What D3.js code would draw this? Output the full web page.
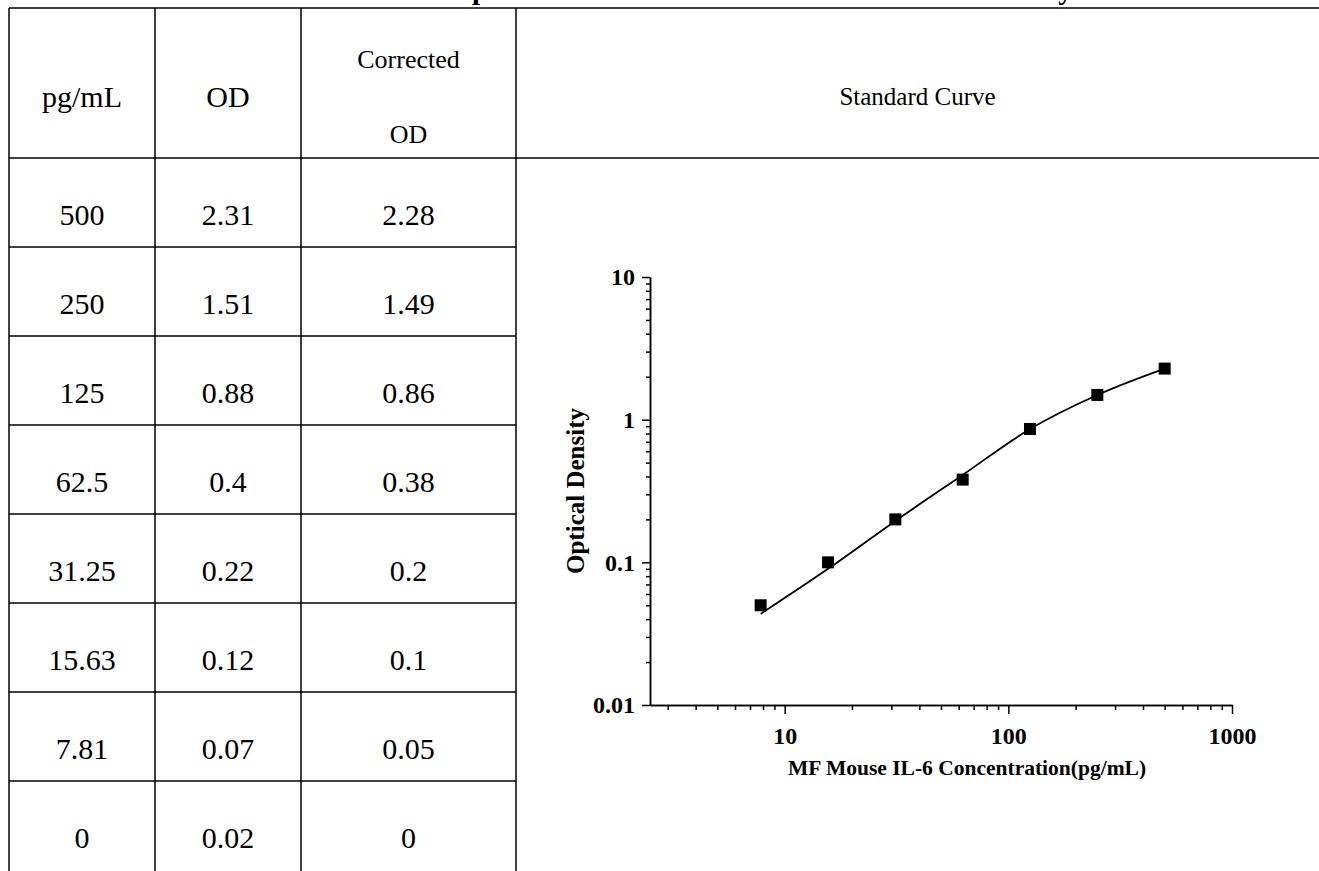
<!DOCTYPE html>
<html>
<head>
<meta charset="utf-8">
<script src="https://d3js.org/d3.v7.min.js"></script>
<style>
  body { margin: 0; background: #fff; }
  svg { display: block; }
  text { font-family: "Liberation Serif", "Times New Roman", serif; fill: #000; }
  .axis text { font-weight: bold; font-size: 24px; }
  .axis path, .axis line { stroke: #000; stroke-width: 1.5; }
</style>
</head>
<body>
<div id="chart"></div>
<script>
// table + standard curve data
var concentrations = [500, 250, 125, 62.5, 31.25, 15.63, 7.81, 0];
var odValues = [2.31, 1.51, 0.88, 0.4, 0.22, 0.12, 0.07, 0.02];
var correctedOd = [2.28, 1.49, 0.86, 0.38, 0.2, 0.1, 0.05, 0];
// fitted curve at 500 ... 7.81 pg/mL
var fitOd = [2.28, 1.49, 0.86, 0.41, 0.195, 0.09, 0.0435];
var headers = ["pg/mL", "OD", ["Corrected", "OD"]];
var xMajorTicks = [10, 100, 1000];
var yMajorTicks = [0.01, 0.1, 1, 10];
var titleText = "Example of Standard Curve for MF Mouse IL-6 Assay";

var svgWidth = 1319;
var svgHeight = 871;

var svg = d3.select("#chart")
  .append("svg")
  .attr("width", svgWidth)
  .attr("height", svgHeight);

// Step 1: table grid
// ==============================
var colEdges = [9, 155, 301, 516];
var tableTop = 8;
var headerBottom = 158;
var rowHeight = 89;

var grid = svg.append("g")
  .attr("stroke", "#000")
  .attr("stroke-width", 1.5);

// full width lines (top and header bottom)
grid.append("line").attr("x1", colEdges[0]).attr("x2", svgWidth).attr("y1", tableTop).attr("y2", tableTop);
grid.append("line").attr("x1", colEdges[0]).attr("x2", svgWidth).attr("y1", headerBottom).attr("y2", headerBottom);

colEdges.forEach(function (x) {
  grid.append("line").attr("x1", x).attr("x2", x).attr("y1", tableTop).attr("y2", svgHeight);
});

// row separators (last row runs off the bottom of the page)
concentrations.slice(1).forEach(function (c, i) {
  var yy = headerBottom + rowHeight * (i + 1);
  grid.append("line").attr("x1", colEdges[0]).attr("x2", colEdges[3]).attr("y1", yy).attr("y2", yy);
});

// Step 2: table text
// ==============================
var colCenters = [0, 1, 2].map(function (i) { return (colEdges[i] + colEdges[i + 1]) / 2; });

svg.append("text").attr("x", colCenters[0]).attr("y", 107).attr("text-anchor", "middle")
  .style("font-size", "30px").text(headers[0]);
svg.append("text").attr("x", colCenters[1]).attr("y", 107).attr("text-anchor", "middle")
  .style("font-size", "30px").text(headers[1]);
svg.append("text").attr("x", colCenters[2]).attr("y", 68).attr("text-anchor", "middle")
  .style("font-size", "26px").text(headers[2][0]);
svg.append("text").attr("x", colCenters[2]).attr("y", 143).attr("text-anchor", "middle")
  .style("font-size", "26px").text(headers[2][1]);
svg.append("text").attr("x", (colEdges[3] + svgWidth) / 2).attr("y", 105).attr("text-anchor", "middle")
  .style("font-size", "25px").text("Standard Curve");

var columns = [concentrations, odValues, correctedOd];
columns.forEach(function (col, ci) {
  svg.append("g").selectAll("text")
    .data(col)
    .enter()
    .append("text")
    .attr("x", colCenters[ci])
    .attr("y", function (d, i) { return headerBottom + rowHeight * i + 67; })
    .attr("text-anchor", "middle")
    .style("font-size", "30px")
    .text(function (d) { return String(d); });
});

// cut-off title at the very top
var title = svg.append("text")
  .attr("y", -1.5)
  .style("font-size", "29px")
  .style("font-weight", "bold")
  .text(titleText);
var tn = title.node();
var pIndex = titleText.indexOf("p");
var pOffset = tn.getSubStringLength(0, pIndex) + tn.getSubStringLength(pIndex, 1) / 2;
title.attr("x", 480 - pOffset);

// Step 3: scales
// ==============================
var xScale = d3.scaleLog()
  .domain([2.5, 1000])
  .range([650, 1232]);

var yScale = d3.scaleLog()
  .domain([0.01, 10])
  .range([705, 277]);

var xMinor = xScale.ticks().filter(function (t) { return xMajorTicks.indexOf(t) < 0; });
var yMinor = yScale.ticks().filter(function (t) { return yMajorTicks.indexOf(t) < 0; });

// Step 4: axes
// ==============================
svg.append("g")
  .attr("class", "axis")
  .attr("transform", "translate(0,705)")
  .call(d3.axisBottom(xScale).tickValues(xMinor).tickSize(5).tickFormat("").tickSizeOuter(0));

svg.append("g")
  .attr("class", "axis")
  .attr("transform", "translate(0,705)")
  .call(d3.axisBottom(xScale).tickValues(xMajorTicks).tickSize(9).tickPadding(13)
    .tickFormat(d3.format("d")).tickSizeOuter(0));

svg.append("g")
  .attr("class", "axis")
  .attr("transform", "translate(650,0)")
  .call(d3.axisLeft(yScale).tickValues(yMinor).tickSize(4).tickFormat("").tickSizeOuter(0));

svg.append("g")
  .attr("class", "axis")
  .attr("transform", "translate(650,0)")
  .call(d3.axisLeft(yScale).tickValues(yMajorTicks).tickSize(8).tickPadding(7)
    .tickFormat(function (d) { return String(d); }).tickSizeOuter(0));

// Step 5: fitted curve and points
// ==============================
var points = concentrations.map(function (c, i) { return { x: c, y: correctedOd[i], fit: fitOd[i] }; })
  .filter(function (d) { return d.x > 0; });

var line = d3.line()
  .x(function (d) { return xScale(d.x); })
  .y(function (d) { return yScale(d.fit); })
  .curve(d3.curveMonotoneX);

svg.append("path")
  .datum(points.slice().reverse())
  .attr("d", line)
  .attr("fill", "none")
  .attr("stroke", "#000")
  .attr("stroke-width", 1.8);

svg.append("g").selectAll("rect")
  .data(points)
  .enter()
  .append("rect")
  .attr("x", function (d) { return xScale(d.x) - 6; })
  .attr("y", function (d) { return yScale(d.y) - 6; })
  .attr("width", 12)
  .attr("height", 12)
  .attr("fill", "#000");

// Step 6: axis labels
// ==============================
svg.append("text")
  .attr("transform", "translate(584,491) rotate(-90)")
  .attr("text-anchor", "middle")
  .style("font-size", "25px")
  .style("font-weight", "bold")
  .text("Optical Density");

svg.append("text")
  .attr("x", 967)
  .attr("y", 775)
  .attr("text-anchor", "middle")
  .style("font-size", "21.5px")
  .style("font-weight", "bold")
  .text("MF Mouse IL-6 Concentration(pg/mL)");
</script>
</body>
</html>
